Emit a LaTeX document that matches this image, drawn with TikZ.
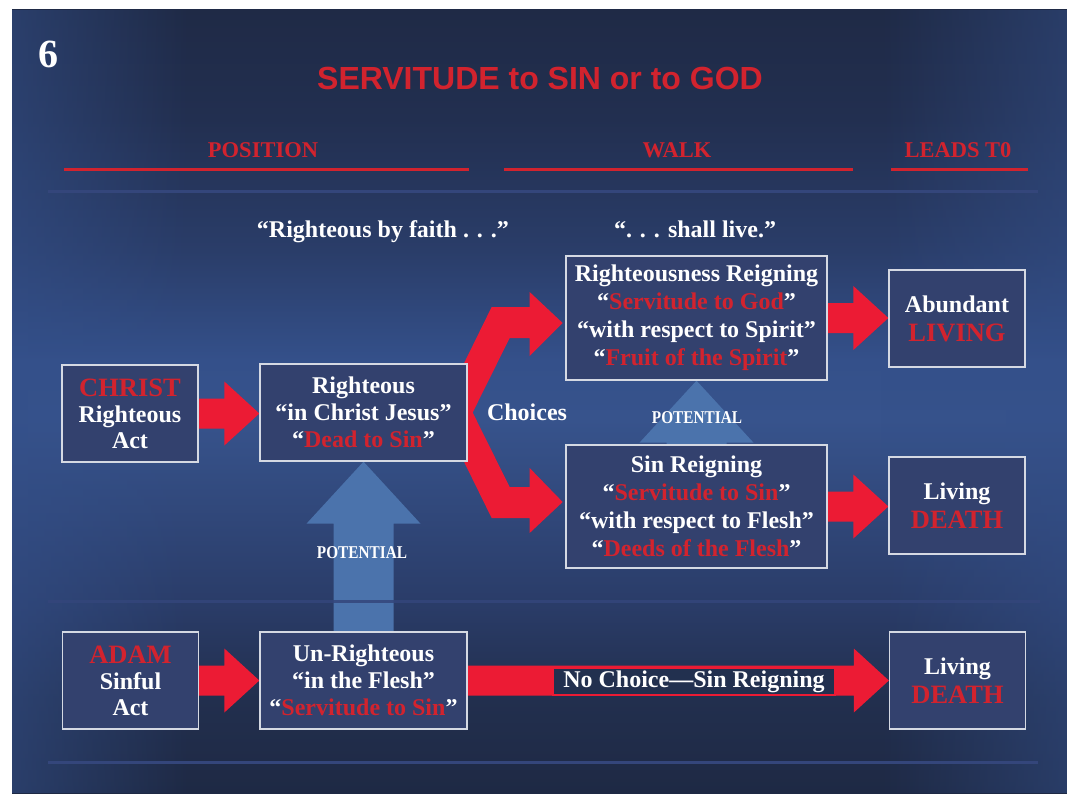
\documentclass[tikz,border=0pt]{standalone}
\usepackage{fontspec}
\setmainfont{Liberation Serif}
\newfontfamily\titlesans{Liberation Sans}
\usetikzlibrary{calc,fadings}
\definecolor{bga}{HTML}{1E2944}
\definecolor{bgb}{HTML}{222F4E}
\definecolor{bgc}{HTML}{2A3C68}
\definecolor{bgd}{HTML}{37538C}
\definecolor{bge}{HTML}{34508A}
\definecolor{bgf}{HTML}{2A3D69}
\definecolor{bgg}{HTML}{222F50}
\definecolor{bgh}{HTML}{1F2A46}
\definecolor{bgside}{HTML}{34508A}
\definecolor{boxfill}{HTML}{33416E}
\definecolor{boxline}{HTML}{D5D9E3}
\definecolor{arrred}{HTML}{EC1B34}
\definecolor{txtred}{HTML}{D2232E}
\definecolor{potblue}{HTML}{4B73AC}
\definecolor{bgline}{HTML}{34467B}
\definecolor{labfill}{HTML}{22304F}
\pgfdeclareverticalshading{bgvert}{100bp}{color(0bp)=(bga); color(25bp)=(bga); color(31bp)=(bgb); color(37bp)=(bgc); color(48.8bp)=(bgd); color(52.6bp)=(bge); color(59.6bp)=(bgf); color(68bp)=(bgg); color(75bp)=(bgh); color(100bp)=(bgh)}
\tikzfading[name=sidefadeL, left color=transparent!45, right color=transparent!100]
\tikzfading[name=sidefadeR, left color=transparent!100, right color=transparent!50]
\pgfdeclarelayer{bglayer}
\pgfdeclarelayer{arrlayer}
\pgfsetlayers{bglayer,arrlayer,main}
\newcommand\redt[1]{\textcolor{txtred}{#1}}
\newcommand\bigred[1]{{\fontsize{26.5}{28}\selectfont\textcolor{txtred}{#1}}}
\newcommand\boxfont{\fontsize{24}{27}\selectfont\bfseries}
\newcommand\redarrow[2]{%
  \fill[arrred] let \p1=(#1.east), \p2=(#2.west) in
    (\x1,\y1+15pt) -- (\x2-35pt,\y1+15pt) -- (\x2-35pt,\y1+32pt) -- (\x2,\y1)
    -- (\x2-35pt,\y1-32pt) -- (\x2-35pt,\y1-15pt) -- (\x1,\y1-15pt) -- cycle;}
\newcommand\bluearrow[2]{%
  \fill[potblue] let \p1=(#1.north), \p2=(#2.south) in
    (\x2-30pt,\y1) -- (\x2-30pt,\y2-62pt) -- (\x2-57pt,\y2-62pt) -- (\x2,\y2)
    -- (\x2+57pt,\y2-62pt) -- (\x2+30pt,\y2-62pt) -- (\x2+30pt,\y1) -- cycle;}
\begin{document}
\begin{tikzpicture}[x=1pt,y=-1pt,
  box/.style={draw=boxline,line width=1.3pt,fill=boxfill,text=white,align=center,inner sep=0pt,font=\boxfont},
  smallbox/.style={box,minimum width=136pt,minimum height=97pt,font=\fontsize{24}{26}\selectfont\bfseries},
  midbox/.style={box,minimum width=207pt,minimum height=97pt},
  bigbox/.style={box,minimum width=261pt,minimum height=123pt,font=\fontsize{24}{28}\selectfont\bfseries},
  hdr/.style={text=txtred,font=\fontsize{22.5}{24}\selectfont\bfseries,inner sep=0pt,anchor=base},
  wtext/.style={text=white,font=\boxfont,inner sep=0pt,anchor=base},
  pot/.style={text=white,font=\fontsize{18}{20}\selectfont\bfseries,inner sep=0pt,anchor=base},
  hline/.style={txtred,line width=3pt},
  bline/.style={bgline,line width=3pt}]
\useasboundingbox (0,0) rectangle (1067,793);
\begin{pgfonlayer}{bglayer}
  \fill[white] (0,0) rectangle (1067,793);
  \shade[shading=bgvert] (12,9) rectangle (1067,793);
  \fill[bgside, path fading=sidefadeL] (12,9) rectangle (190,793);
  \fill[bgside, path fading=sidefadeR] (880,9) rectangle (1067,793);
  \draw[bline] (48,191) -- (1038,191);
  \draw[bline] (48,762) -- (1038,762);
\end{pgfonlayer}

% titles
\node[text=white,font=\fontsize{40}{42}\selectfont\bfseries,inner sep=0pt,anchor=base] (num) at (48,67) {6};
\node[text=txtred,font=\titlesans\bfseries\fontsize{32}{36}\selectfont,inner sep=0pt,anchor=base] (title) at (540,89) {SERVITUDE to SIN or to GOD};
\node[hdr] (hpos) at (263,157) {POSITION};
\node[hdr] (hwalk) at (677,157) {WALK};
\node[hdr] (hlead) at (958,157) {LEADS T0};
\draw[hline] (64,169) -- (469,169);
\draw[hline] (504,169) -- (853,169);
\draw[hline] (891,169) -- (1028,169);
\node[wtext] (q1) at (383,237) {“Righteous by faith . . .”};
\node[wtext] (q2) at (695,237) {“. . . shall live.”};

% boxes
\node[smallbox] (christ) at (130,413.5) {\bigred{CHRIST}\\Righteous\\Act};
\node[midbox] (r) at (363.5,412.5) {Righteous\\“in Christ Jesus”\\“\redt{Dead to Sin}”};
\node[bigbox,minimum height=124pt] (rr) at (696.5,318) {Righteousness Reigning\\“\redt{Servitude to God}”\\“with respect to Spirit”\\“\redt{Fruit of the Spirit}”};
\node[bigbox] (sr) at (696.5,506.5) {Sin Reigning\\“\redt{Servitude to Sin}”\\“with respect to Flesh”\\“\redt{Deeds of the Flesh}”};
\node[smallbox,font=\fontsize{24}{29}\selectfont\bfseries] (abund) at (957,318.5) {Abundant\\\bigred{LIVING}};
\node[smallbox,font=\fontsize{24}{29}\selectfont\bfseries] (death1) at (957,505.5) {Living\\\bigred{DEATH}};
\node[smallbox] (adam) at (130.5,680.5) {\bigred{ADAM}\\Sinful\\Act};
\node[midbox] (unr) at (363.5,680.5) {Un-Righteous\\“in the Flesh”\\“\redt{Servitude to Sin}”};
\node[smallbox,font=\fontsize{24}{29}\selectfont\bfseries] (death2) at (957.5,680.5) {Living\\\bigred{DEATH}};

% arrows
\begin{pgfonlayer}{arrlayer}
  \bluearrow{unr}{r}
  \bluearrow{sr}{rr}
  \draw[bgline,line width=3pt,opacity=0.85] (48,601) -- (1040,601);
  \redarrow{christ}{r}
  \redarrow{adam}{unr}
  \redarrow{rr}{abund}
  \redarrow{sr}{death1}
  \redarrow{unr}{death2}
  \begin{scope}[shift={(r.east)}]
    \fill[arrred] (-4,-48.5) -- (24,-105.5) -- (62,-105.5) -- (62,-120.5) -- (95,-89.5)
      -- (62,-56.5) -- (62,-74.5) -- (42,-74.5) -- (5,0) -- (42,74.5) -- (62,74.5)
      -- (62,55.5) -- (95,89.5) -- (62,120.5) -- (62,105.5) -- (24,105.5) -- (-4,48.5) -- cycle;
  \end{scope}
\end{pgfonlayer}

\node[wtext] (choices) at (527,420) {Choices};
\node[pot] (pot1) at (362,558) {\scalebox{0.85}[1]{POTENTIAL}};
\node[pot] (pot2) at (697,423) {\scalebox{0.85}[1]{POTENTIAL}};
\node[fill=labfill,draw=arrred,line width=1.2pt,minimum width=282pt,minimum height=27pt,inner sep=0pt,text=white,font=\fontsize{24}{26}\selectfont\bfseries] (nochoice) at (694,681.5) {No Choice—Sin Reigning};
\end{tikzpicture}
\end{document}
